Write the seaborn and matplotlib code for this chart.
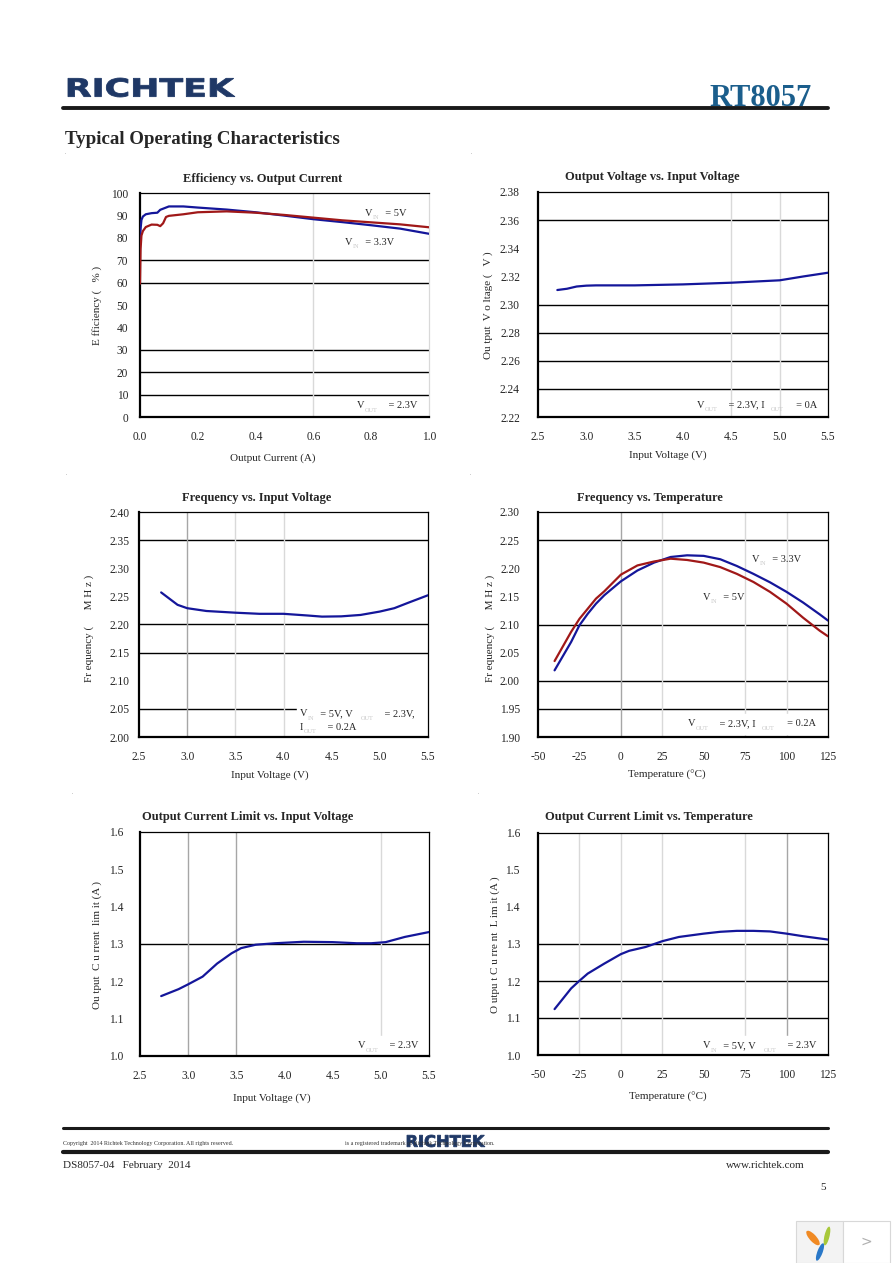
import numpy as np
import pandas as pd
import seaborn as sns
import matplotlib.pyplot as plt
from matplotlib.textpath import TextPath
from matplotlib.patches import PathPatch, Rectangle, Ellipse
from matplotlib.font_manager import FontProperties
from matplotlib.transforms import Affine2D
from matplotlib.lines import Line2D

W, H = 892, 1263

# --- data ---
# Efficiency vs Output Current
eff_iout_33 = [0.0, 0.002, 0.005, 0.01, 0.02, 0.04, 0.06, 0.07, 0.08, 0.1, 0.15, 0.2, 0.3, 0.4, 0.5, 0.6, 0.7, 0.8, 0.9, 1.0]
eff_33v = [77.5, 84, 88, 89.5, 90.5, 91, 91.2, 92.5, 93, 94, 94, 93.5, 92.6, 91.4, 89.9, 88.3, 87, 85.6, 84.1, 81.8]
eff_iout_5 = [0.0, 0.002, 0.005, 0.01, 0.02, 0.04, 0.06, 0.07, 0.08, 0.09, 0.1, 0.15, 0.2, 0.3, 0.4, 0.5, 0.6, 0.7, 0.8, 0.9, 1.0]
eff_5v = [59.5, 75, 81, 83, 84.8, 85.9, 85.8, 85.2, 86.5, 89.3, 89.8, 90.5, 91.4, 91.8, 91.2, 90.2, 89.0, 87.8, 86.9, 86.0, 84.7]

# Output Voltage vs Input Voltage
vout_vin = [2.7, 2.8, 2.9, 3.0, 3.1, 3.5, 4.0, 4.5, 5.0, 5.25, 5.5]
vout_v = [2.3103, 2.3112, 2.3128, 2.3134, 2.3136, 2.3136, 2.3143, 2.3155, 2.3172, 2.3200, 2.3226]

# Frequency vs Input Voltage
fvin_vin = [2.73, 2.9, 3.0, 3.2, 3.5, 3.75, 4.0, 4.25, 4.4, 4.6, 4.8, 5.0, 5.15, 5.3, 5.5]
fvin_mhz = [2.257, 2.235, 2.229, 2.224, 2.221, 2.219, 2.219, 2.216, 2.214, 2.2145, 2.217, 2.223, 2.229, 2.239, 2.252]

# Frequency vs Temperature
ftemp_t = [-40, -30, -25, -20, -15, -10, 0, 10, 20, 30, 40, 50, 60, 70, 80, 90, 100, 110, 120, 125]
ftemp_5v = [2.035, 2.087, 2.110, 2.128, 2.146, 2.159, 2.1886, 2.205, 2.212, 2.217, 2.2147, 2.21, 2.202, 2.19, 2.1756, 2.158, 2.137, 2.112, 2.089, 2.079]
ftemp_33v = [2.0185, 2.069, 2.0985, 2.119, 2.137, 2.152, 2.1767, 2.196, 2.21, 2.22, 2.223, 2.222, 2.216, 2.204, 2.19, 2.175, 2.158, 2.139, 2.118, 2.107]

# Output Current Limit vs Input Voltage
climv_vin = [2.72, 2.9, 3.0, 3.15, 3.3, 3.45, 3.55, 3.7, 3.9, 4.2, 4.5, 4.75, 4.9, 5.05, 5.25, 5.5]
climv_a = [1.1605, 1.179, 1.192, 1.2126, 1.2475, 1.275, 1.289, 1.298, 1.302, 1.306, 1.305, 1.302, 1.302, 1.305, 1.319, 1.332]

# Output Current Limit vs Temperature
climt_t = [-40, -30, -25, -20, -10, 0, 5, 15, 25, 35, 50, 60, 70, 80, 90, 100, 110, 125]
climt_a = [1.124, 1.18, 1.2006, 1.22, 1.247, 1.2726, 1.2816, 1.292, 1.3076, 1.319, 1.328, 1.333, 1.3355, 1.3355, 1.334, 1.328, 1.321, 1.312]

BLUE = '#14169a'
RED = '#a01818'
NAVY = '#1f3866'

sns.set_style("white")
plt.rcParams['font.family'] = ['Liberation Serif', 'DejaVu Serif']

fig = plt.figure(figsize=(W / 100, H / 100), dpi=100)


def fx(x):
    return x / W


def fy(y):
    return 1 - y / H


def panel(box, xlim, ylim, xticks, yticks, xfmt, yfmt, hlines, vlines,
          ypad, right_color='black'):
    x0, y0, x1, y1 = box
    ax = fig.add_axes([fx(x0), fy(y1), (x1 - x0) / W, (y1 - y0) / H])
    ax.set_xlim(xlim)
    ax.set_ylim(ylim)
    ax.set_xticks(xticks, [xfmt.format(v) for v in xticks])
    ax.set_yticks(yticks, [yfmt.format(v) for v in yticks])
    ax.tick_params(axis='x', length=0, pad=10, labelsize=8.3)
    ax.tick_params(axis='y', length=0, pad=ypad, labelsize=8.3)
    for v in hlines:
        ax.axhline(v, color='black', lw=1.0, zorder=1)
    for v, c in vlines:
        ax.axvline(v, color=c, lw=1.0, zorder=1)
    for s in ['left', 'bottom']:
        ax.spines[s].set_linewidth(1.6)
        ax.spines[s].set_color('black')
    ax.spines['top'].set_linewidth(0.9)
    ax.spines['top'].set_color('black')
    ax.spines['right'].set_linewidth(0.9)
    ax.spines['right'].set_color(right_color)
    ax.set_xlabel('')
    ax.set_ylabel('')
    return ax


def label(ax, x, y, parts, size=7.5):
    # parts: list of (text, is_subscript)
    first = ax.annotate(parts[0][0], xy=(fx(x), fy(y)), xycoords='figure fraction',
                        ha='left', va='center', fontsize=size, zorder=5,
                        annotation_clip=False)
    prev = first
    for txt, sub in parts[1:]:
        if sub:
            t = ax.annotate(txt, xy=(1, 0), xycoords=(prev, first), xytext=(0.5, -1.5),
                            textcoords='offset points', ha='left', va='bottom',
                            fontsize=4.5, color='#c8c8c8', zorder=5, annotation_clip=False)
        else:
            t = ax.annotate(txt, xy=(1, 0), xycoords=(prev, first),
                            ha='left', va='bottom', fontsize=size, zorder=5,
                            annotation_clip=False)
        prev = t


def whitebox(ax, x0, y0, x1, y1):
    ax.add_patch(Rectangle((fx(x0), fy(y1)), (x1 - x0) / W, (y1 - y0) / H,
                           transform=fig.transFigure, color='white', zorder=2,
                           clip_on=False))


def logo(x0, y0, x1, y1, color):
    tp = TextPath((0, 0), "RICHTEK", size=10,
                  prop=FontProperties(family='DejaVu Sans', weight='bold'))
    bb = tp.get_extents()
    tr = (Affine2D().translate(-bb.x0, -bb.y0)
          .scale((x1 - x0) / bb.width, (y1 - y0) / bb.height)
          .translate(x0, H - y1).scale(1 / W, 1 / H))
    fig.add_artist(PathPatch(tr.transform_path(tp), facecolor=color, edgecolor=color,
                             lw=0.6, transform=fig.transFigure))


def hline(x0, x1, y, lw):
    fig.add_artist(Line2D([fx(x0), fx(x1)], [fy(y), fy(y)], color='#1a1a1a', lw=lw,
                          transform=fig.transFigure))


LGRAY = '#d9d9d9'
DGRAY = '#a6a6a6'

# 1. Efficiency vs Output Current
ax1 = panel((140, 193, 429, 417), (0, 1.0), (0, 100), np.arange(0, 1.01, 0.2),
            np.arange(0, 101, 10), '{:.1f}', '{:.0f}', [70, 60, 30, 20, 10],
            [(0.6, LGRAY)], ypad=8.6, right_color=LGRAY)
sns.lineplot(x=eff_iout_33, y=eff_33v, ax=ax1, color=BLUE, lw=1.6, estimator=None, sort=False, zorder=3)
sns.lineplot(x=eff_iout_5, y=eff_5v, ax=ax1, color=RED, lw=1.6, estimator=None, sort=False, zorder=3)
label(ax1, 365, 213, [("V", 0), ("IN", 1), ("  = 5V", 0)])
label(ax1, 345, 242, [("V", 0), ("IN", 1), ("  = 3.3V", 0)])
label(ax1, 357, 406, [("V", 0), ("OUT", 1), ("    = 2.3V", 0)])

# 2. Output Voltage vs Input Voltage
ax2 = panel((538, 192, 828, 417), (2.5, 5.5), (2.22, 2.38), np.arange(2.5, 5.51, 0.5),
            np.arange(2.22, 2.381, 0.02), '{:.1f}', '{:.2f}', [2.36, 2.30, 2.28, 2.26, 2.24],
            [(4.5, LGRAY), (5.0, LGRAY)], ypad=13)
sns.lineplot(x=vout_vin, y=vout_v, ax=ax2, color=BLUE, lw=1.6, estimator=None, sort=False, zorder=3)
label(ax2, 697, 405, [("V", 0), ("OUT", 1), ("    = 2.3V, I  ", 0), ("OUT", 1), ("     = 0A", 0)])

# 3. Frequency vs Input Voltage
ax3 = panel((139, 512, 428, 737), (2.5, 5.5), (2.0, 2.4), np.arange(2.5, 5.51, 0.5),
            np.arange(2.0, 2.401, 0.05), '{:.1f}', '{:.2f}', [2.35, 2.20, 2.15, 2.05],
            [(3.0, DGRAY), (3.5, LGRAY), (4.0, LGRAY)], ypad=7)
whitebox(ax3, 297, 706, 427, 735)
sns.lineplot(x=fvin_vin, y=fvin_mhz, ax=ax3, color=BLUE, lw=1.6, estimator=None, sort=False, zorder=3)
label(ax3, 300, 714, [("V", 0), ("IN", 1), ("  = 5V, V   ", 0), ("OUT", 1), ("    = 2.3V,", 0)])
label(ax3, 300, 727, [("I", 0), ("OUT", 1), ("    = 0.2A", 0)])

# 4. Frequency vs Temperature
ax4 = panel((538, 512, 828, 737), (-50, 125), (1.9, 2.3), np.arange(-50, 126, 25),
            np.arange(1.9, 2.301, 0.05), '{:.0f}', '{:.2f}', [2.25, 2.10, 2.00, 1.95],
            [(0, DGRAY), (25, LGRAY), (75, LGRAY), (100, LGRAY)], ypad=13)
whitebox(ax4, 686, 714, 826, 734)
sns.lineplot(x=ftemp_t, y=ftemp_33v, ax=ax4, color=BLUE, lw=1.6, estimator=None, sort=False, zorder=3)
sns.lineplot(x=ftemp_t, y=ftemp_5v, ax=ax4, color=RED, lw=1.6, estimator=None, sort=False, zorder=3)
label(ax4, 752, 559, [("V", 0), ("IN", 1), ("  = 3.3V", 0)])
label(ax4, 703, 597, [("V", 0), ("IN", 1), ("  = 5V", 0)])
label(ax4, 688, 724, [("V", 0), ("OUT", 1), ("    = 2.3V, I  ", 0), ("OUT", 1), ("     = 0.2A", 0)])

# 5. Output Current Limit vs Input Voltage
ax5 = panel((140, 832, 429, 1056), (2.5, 5.5), (1.0, 1.6), np.arange(2.5, 5.51, 0.5),
            np.arange(1.0, 1.601, 0.1), '{:.1f}', '{:.1f}', [1.3],
            [(3.0, DGRAY), (3.5, DGRAY), (5.0, LGRAY)], ypad=12)
whitebox(ax5, 355, 1036, 427, 1054)
sns.lineplot(x=climv_vin, y=climv_a, ax=ax5, color=BLUE, lw=1.6, estimator=None, sort=False, zorder=3)
label(ax5, 358, 1046, [("V", 0), ("OUT", 1), ("    = 2.3V", 0)])

# 6. Output Current Limit vs Temperature
ax6 = panel((538, 833, 828, 1055), (-50, 125), (1.0, 1.6), np.arange(-50, 126, 25),
            np.arange(1.0, 1.601, 0.1), '{:.0f}', '{:.1f}', [1.3, 1.2, 1.1],
            [(-25, LGRAY), (0, LGRAY), (25, LGRAY), (75, LGRAY), (100, DGRAY)], ypad=13)
whitebox(ax6, 700, 1036, 826, 1053)
sns.lineplot(x=climt_t, y=climt_a, ax=ax6, color=BLUE, lw=1.6, estimator=None, sort=False, zorder=3)
label(ax6, 703, 1046, [("V", 0), ("IN", 1), ("  = 5V, V   ", 0), ("OUT", 1), ("    = 2.3V", 0)])

# titles and axis labels
titles = ["Efficiency vs. Output Current", "Output Voltage vs. Input Voltage",
          "Frequency vs. Input Voltage", "Frequency vs. Temperature",
          "Output Current Limit vs. Input Voltage", "Output Current Limit vs. Temperature"]
title_pos = [(263, 179), (652, 177), (257, 498), (650, 498), (248, 817), (649, 817)]
for t, (x, y) in zip(titles, title_pos):
    fig.text(fx(x), fy(y), t, ha='center', va='center', fontsize=9, fontweight='bold')

xlabels = ["Output Current (A)", "Input Voltage (V)", "Input Voltage (V)",
           "Temperature (°C)", "Input Voltage (V)", "Temperature (°C)"]
xlabel_pos = [(273, 458), (668, 455), (270, 775), (667, 775), (272, 1098), (668, 1097)]
for t, (x, y) in zip(xlabels, xlabel_pos):
    fig.text(fx(x), fy(y), t, ha='center', va='center', fontsize=8)

ylabels = ["E fficiency (   % )", "Ou tput  V o ltage (   V )", "Fr equency (      M H z )",
           "Fr equency (      M H z )", "Ou tput  C u rrent  lim it (A )",
           "O utpu t C u rre nt  L im it (A )"]
ylabel_pos = [(97, 305), (488, 305), (89, 628), (490, 628), (97, 945), (495, 945)]
for t, (x, y) in zip(ylabels, ylabel_pos):
    fig.text(fx(x), fy(y), t, ha='center', va='center', fontsize=8, rotation=90)

# header
logo(68, 78, 235, 97, NAVY)
fig.text(fx(812), fy(106), "RT8057", ha='right', va='baseline', fontsize=22,
         color='#1b5e8c', fontweight='bold')
hline(63, 828, 108, 2.8)
fig.text(fx(65), fy(140), "Typical Operating Characteristics", ha='left', va='center',
         fontsize=13.6, fontweight='bold')
for x, y in [(65, 153), (471, 153), (66, 474), (470, 474), (72, 793), (478, 793)]:
    fig.text(fx(x), fy(y), ".", fontsize=4, color='#777777', ha='center', va='center')

# footer
hline(63, 828, 1128, 2.2)
hline(63, 828, 1152, 3.0)
fig.text(fx(63), fy(1143), "Copyright  2014 Richtek Technology Corporation. All rights reserved.",
         fontsize=4.3, color='#333333', ha='left', va='center')
fig.text(fx(345), fy(1143), "is a registered trademark of Richtek Technology Corporation.",
         fontsize=4.3, color='#333333', ha='left', va='center')
logo(407, 1135, 485, 1147, NAVY)
fig.text(fx(63), fy(1166), "DS8057-04   February  2014", fontsize=8, ha='left', va='center')
fig.text(fx(805), fy(1166), "www.richtek.com", fontsize=8, ha='right', va='center')
fig.text(fx(826), fy(1187), "5", fontsize=8, ha='right', va='center')

# viewer widget in the bottom-right corner
fig.add_artist(Rectangle((fx(796), fy(1263)), 47 / W, 42 / H, transform=fig.transFigure,
                         facecolor='#f3f3f3', edgecolor='#d8d8d8', lw=0.8))
fig.add_artist(Rectangle((fx(843), fy(1263)), 47 / W, 42 / H, transform=fig.transFigure,
                         facecolor='white', edgecolor='#d8d8d8', lw=0.8))
for (x, y, w, h, ang, c) in [(813, 1238, 16, 8, -35, '#f08a24'), (827, 1236, 14, 7, 70, '#a8c83a'),
                             (820, 1252, 14, 7, 60, '#2a78c8')]:
    fig.add_artist(Ellipse((fx(x), fy(y)), w / W, h / H, angle=ang, transform=fig.transFigure,
                           color=c, lw=0))
fig.text(fx(866), fy(1242), ">", fontsize=10, color='#b0b0b0', ha='center', va='center',
         family='DejaVu Sans')

fig.savefig("out.png", dpi=100)
